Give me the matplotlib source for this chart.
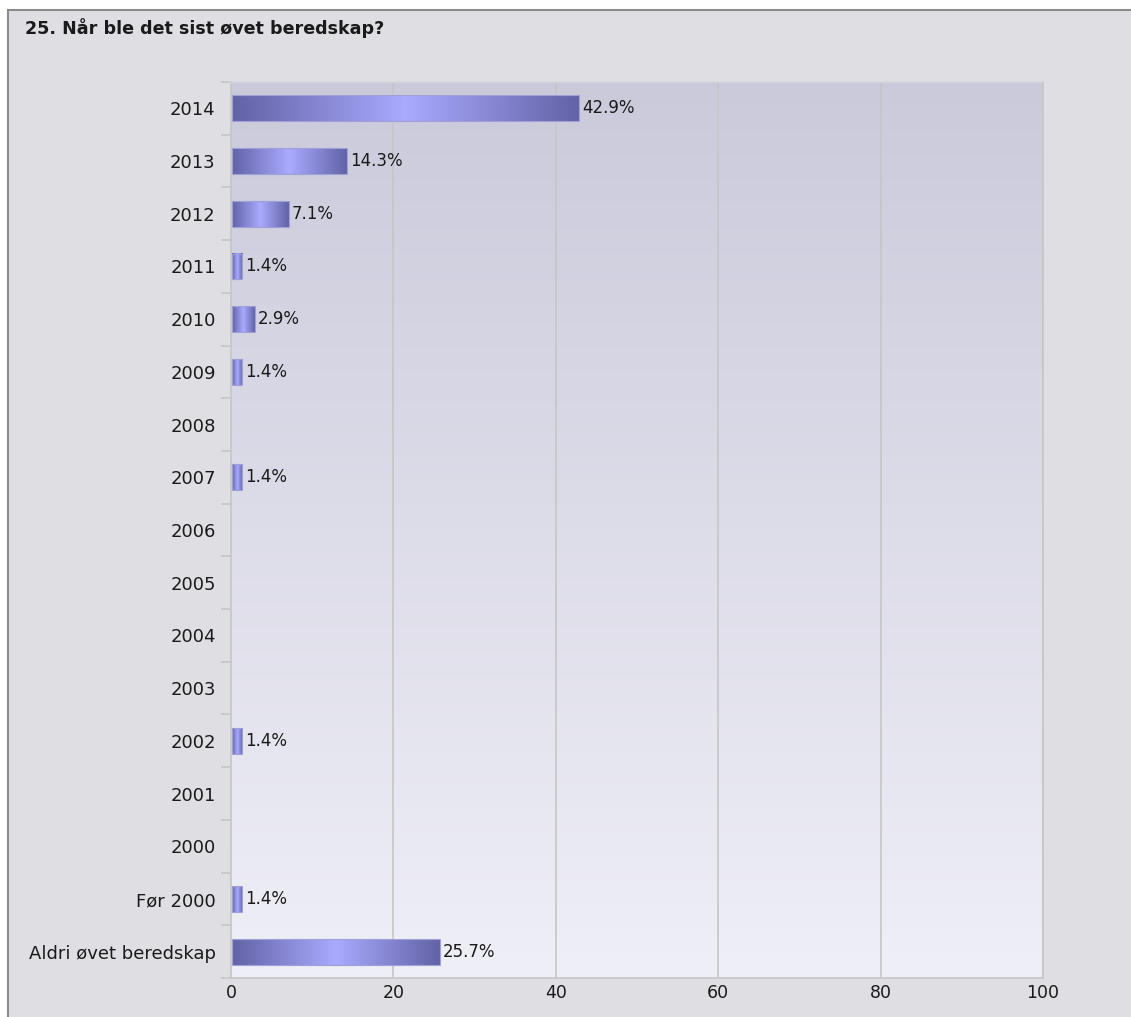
import numpy as np
import matplotlib.pyplot as plt
from matplotlib.colors import LinearSegmentedColormap
from matplotlib.patches import Rectangle

categories = ['2014', '2013', '2012', '2011', '2010', '2009', '2008', '2007',
              '2006', '2005', '2004', '2003', '2002', '2001', '2000',
              'Før 2000', 'Aldri øvet beredskap']
percent = [42.9, 14.3, 7.1, 1.4, 2.9, 1.4, 0, 1.4,
           0, 0, 0, 0, 1.4, 0, 0, 1.4, 25.7]
x_ticks = [0, 20, 40, 60, 80, 100]
title = '25. Når ble det sist øvet beredskap?'

fig = plt.figure(figsize=(11.31, 10.17), dpi=100)
fig.patch.set_facecolor('white')

# grey panel with a dark frame line at the top and left
W, H = 1131, 1017
fig.add_artist(Rectangle((8 / W, -0.01), 1.2, (H - 10) / H + 0.01, transform=fig.transFigure,
                         facecolor='#dfdee3', edgecolor='#8c8c8c', linewidth=1.5,
                         zorder=-5))

fig.text(25 / W, 1 - 28 / H, title, fontsize=12.6, fontweight='bold',
         color='#1a1a1a', ha='left', va='center')

ax = fig.add_axes([231 / W, 39 / H, 812 / W, 896 / H])
n = len(categories)
ax.set_xlim(0, 100)
ax.set_ylim(n - 0.5, -0.5)

# vertical background gradient, darker at the top
bg = LinearSegmentedColormap.from_list('bg', ['#cbcadb', '#efeff7'])
ax.imshow(np.linspace(0, 1, 256).reshape(-1, 1), cmap=bg, aspect='auto',
          extent=(0, 100, n - 0.5, -0.5), zorder=0)

for x in x_ticks[1:]:
    ax.axvline(x, color='#c6c6c6', linewidth=1.2, zorder=1)

# bars shaded dark-light-dark across their length
bar_cmap = LinearSegmentedColormap.from_list('bar', ['#6262a6', '#aaaaff', '#6262a6'])
grad = np.linspace(0, 1, 256).reshape(1, -1)
h = 0.49
for i, v in enumerate(percent):
    if v <= 0:
        continue
    ax.imshow(grad, cmap=bar_cmap, aspect='auto',
              extent=(0.15, v, i + h / 2, i - h / 2), zorder=2)
    ax.add_patch(Rectangle((0.15, i - h / 2), v - 0.15, h, facecolor='none',
                           edgecolor='#a0a0d8', linewidth=0.8, zorder=3))
    ax.text(v + 0.35, i, f'{v:.1f}%', fontsize=12, color='#1a1a1a',
            ha='left', va='center', zorder=4)

ax.set_yticks(range(n))
ax.set_yticklabels(categories)
ax.set_yticks(np.arange(-0.5, n, 1), minor=True)
ax.tick_params(axis='y', which='major', length=0, pad=11, labelsize=13, labelcolor='#1a1a1a')
ax.tick_params(axis='y', which='minor', length=7, color='#c6c6c6', width=1.2)
ax.set_xticks(x_ticks)
ax.tick_params(axis='x', length=0, pad=4, labelsize=12.5, labelcolor='#1a1a1a')

for side in ['top', 'bottom', 'left', 'right']:
    ax.spines[side].set_color('#c6c6c6')
    ax.spines[side].set_linewidth(1.2)
ax.spines['top'].set_color('#d6d6de')

fig.savefig('out.png', dpi=100)
